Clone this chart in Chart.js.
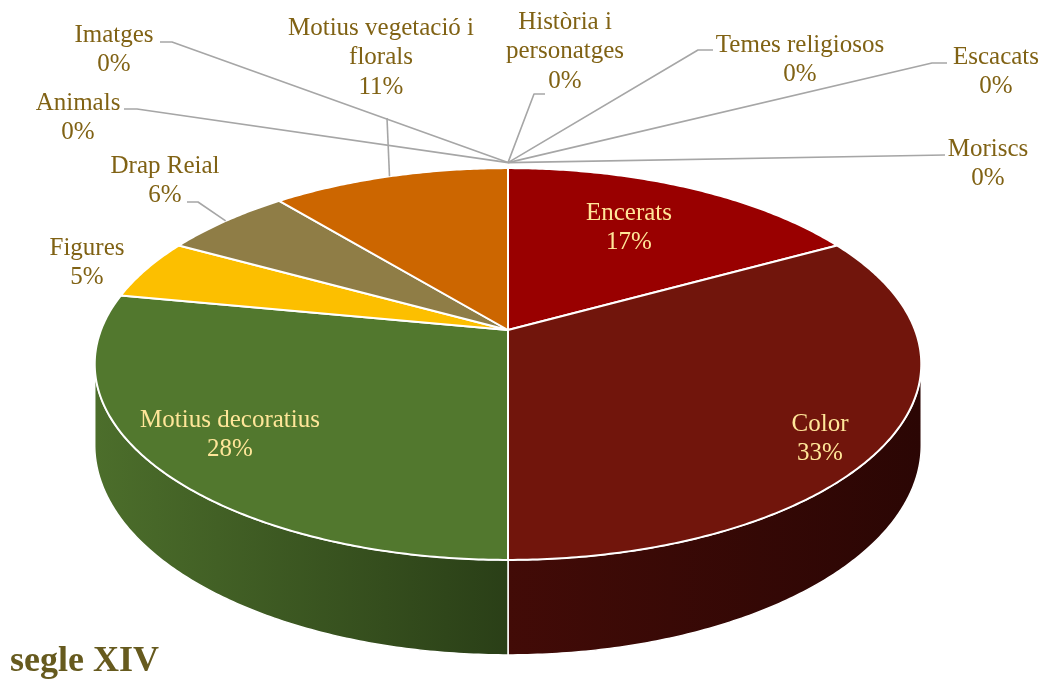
<!DOCTYPE html>
<html>
<head>
<meta charset="utf-8">
<script src="https://cdn.jsdelivr.net/npm/chart.js@4.4.1/dist/chart.umd.min.js"></script>
<style>
  body { margin: 0; background: #fff; }
  #wrap { width: 1044px; height: 680px; }
</style>
</head>
<body>
<div id="wrap"><canvas id="pie"></canvas></div>
<script>
// data
const categories = [
  "Encerats",
  "Color",
  "Motius decoratius",
  "Figures",
  "Drap Reial",
  "Motius vegetació i florals",
  "Imatges",
  "Animals",
  "Història i personatges",
  "Temes religiosos",
  "Escacats",
  "Moriscs",
];
const values = [17, 33, 28, 5, 6, 11, 0, 0, 0, 0, 0, 0];
const topColors = ["#990000", "#71150c", "#52782e", "#fcbf00", "#8f7d46", "#cc6600",
  "#a5a5a5", "#5b9bd5", "#4472c4", "#70ad47", "#264478", "#9e480e"];
const sideColors = [
  ["#5c0000", "#3d0000"],
  ["#420b07", "#2b0604"],
  ["#4c6e2b", "#2a3f17"],
  ["#a07a00", "#7a5c00"],
  ["#5c502c", "#463c20"],
  ["#8a4500", "#663300"],
];

// label text per slice (line breaks like the original)
const labelLines = {
  "Motius vegetació i florals": ["Motius vegetació i", "florals"],
  "Història i personatges": ["Història i", "personatges"],
};

// where Excel put the labels (center x, first line y) and their leader elbows
const labelLayout = {
  "Encerats": { at: [629, 213], inside: true },
  "Color": { at: [820, 424], inside: true },
  "Motius decoratius": { at: [230, 420], inside: true },
  "Figures": { at: [87, 248] },
  "Drap Reial": { at: [165, 166], leader: [[187, 202], [198, 202]] },
  "Motius vegetació i florals": { at: [381, 28], leader: [[387, 118]] },
  "Imatges": { at: [114, 35], leader: [[160, 42], [172, 42]] },
  "Animals": { at: [78, 103], leader: [[124, 109], [137, 109]] },
  "Història i personatges": { at: [565, 22], leader: [[545, 94], [534, 94]] },
  "Temes religiosos": { at: [800, 45], leader: [[713, 50], [698, 50]] },
  "Escacats": { at: [996, 57], leader: [[947, 63], [932, 63]] },
  "Moriscs": { at: [988, 149], leader: [[945, 155]] },
};

// 3d look: perspective projection of the pie disc
const CX = 508, CY = 330, FX = 407, FY = 190, PERSP = 0.1736, DEPTH = 78.5;
const LINE_H = 29.5;

function project(a, r, z) {
  const u = Math.cos(a) * r;
  const v = -Math.sin(a) * r;
  const w = 1 + PERSP * v;
  return [CX + FX * u / w, CY - FY * v / w + DEPTH * z / w];
}

function arcPoints(a1, a2, z) {
  const n = Math.max(2, Math.ceil(Math.abs(a2 - a1) / 0.01));
  const pts = [];
  for (let i = 0; i <= n; i++) {
    pts.push(project(a1 + (a2 - a1) * i / n, 1, z));
  }
  return pts;
}

const pie3d = {
  id: "pie3d",
  beforeDatasetsDraw() {
    return false; // we draw the arcs ourselves
  },
  afterDraw(chart) {
    const ctx = chart.ctx;
    const arcs = chart.getDatasetMeta(0).data;
    const f0 = Math.asin(PERSP), f1 = Math.PI - Math.asin(PERSP);
    ctx.save();
    ctx.lineJoin = "round";

    // side walls (front half only)
    arcs.forEach((el, i) => {
      if (!values[i]) return;
      const s = Math.max(el.startAngle, f0);
      const e = Math.min(el.endAngle, f1);
      if (e <= s) return;
      const upper = arcPoints(s, e, 0);
      const lower = arcPoints(e, s, 1);
      const pts = upper.concat(lower);
      const xs = pts.map((p) => p[0]);
      const g = ctx.createLinearGradient(Math.min(...xs), 0, Math.max(...xs), 0);
      g.addColorStop(0, sideColors[i][0]);
      g.addColorStop(1, sideColors[i][1]);
      ctx.beginPath();
      pts.forEach((p, k) => (k ? ctx.lineTo(p[0], p[1]) : ctx.moveTo(p[0], p[1])));
      ctx.closePath();
      ctx.fillStyle = g;
      ctx.fill();
      ctx.strokeStyle = "#ffffff";
      ctx.lineWidth = 1.5;
      ctx.stroke();
    });

    // top faces
    arcs.forEach((el, i) => {
      if (!values[i]) return;
      const pts = arcPoints(el.startAngle, el.endAngle, 0);
      ctx.beginPath();
      ctx.moveTo(CX, CY);
      pts.forEach((p) => ctx.lineTo(p[0], p[1]));
      ctx.closePath();
      ctx.fillStyle = topColors[i];
      ctx.fill();
      ctx.strokeStyle = "#ffffff";
      ctx.lineWidth = 2;
      ctx.stroke();
    });

    // leader lines
    ctx.strokeStyle = "#a6a6a6";
    ctx.lineWidth = 1.6;
    arcs.forEach((el, i) => {
      const lay = labelLayout[categories[i]];
      if (!lay || !lay.leader) return;
      const mid = (el.startAngle + el.endAngle) / 2;
      const anchor = project(mid, values[i] ? 1 : 1.04, 0);
      ctx.beginPath();
      lay.leader.forEach((p, k) => (k ? ctx.lineTo(p[0], p[1]) : ctx.moveTo(p[0], p[1])));
      ctx.lineTo(anchor[0], anchor[1]);
      ctx.stroke();
    });

    // labels
    ctx.font = '25px "Liberation Serif"';
    ctx.textAlign = "center";
    ctx.textBaseline = "middle";
    categories.forEach((name, i) => {
      const lay = labelLayout[name];
      const lines = (labelLines[name] || [name]).concat([values[i] + "%"]);
      ctx.fillStyle = lay.inside ? "#ffe699" : "#806214";
      lines.forEach((t, k) => ctx.fillText(t, lay.at[0], lay.at[1] + k * LINE_H));
    });
    ctx.restore();
  },
};

new Chart(document.getElementById("pie"), {
  type: "pie",
  data: {
    labels: categories,
    datasets: [{ data: values, backgroundColor: topColors, borderWidth: 0 }],
  },
  options: {
    responsive: true,
    maintainAspectRatio: false,
    animation: false,
    layout: { padding: { left: 10 } },
    plugins: {
      legend: { display: false },
      tooltip: { enabled: false },
      title: {
        display: true,
        text: "segle XIV",
        position: "bottom",
        align: "start",
        color: "#665a1e",
        font: { family: "Liberation Serif", size: 36, weight: "bold", lineHeight: 1.0 },
        padding: { top: 0, bottom: 0 },
      },
    },
  },
  plugins: [pie3d],
});
</script>
</body>
</html>
